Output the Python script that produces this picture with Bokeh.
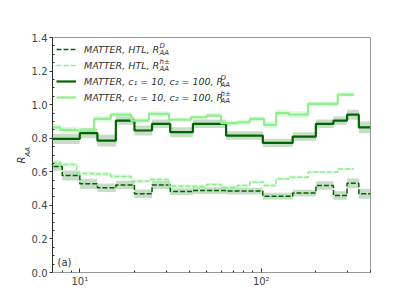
from bokeh.plotting import figure
from bokeh.models import (Range1d, FixedTicker, CustomJSTickFormatter,
                          PrintfTickFormatter, Legend, LegendItem, Label, Title)
from bokeh.embed import file_html
from bokeh.resources import INLINE

# ---------------- data ----------------
d_edges = [6, 8, 10, 12.5, 15.8, 20, 25, 31.5, 42, 64, 102, 149, 200, 250, 297, 345, 400]
d_full = [0.796, 0.796, 0.83, 0.786, 0.905, 0.846, 0.886, 0.836, 0.886, 0.816, 0.772, 0.81, 0.886, 0.905, 0.94, 0.865]
d_full_err = [0.03, 0.03, 0.03, 0.035, 0.025, 0.03, 0.025, 0.03, 0.025, 0.025, 0.025, 0.025, 0.025, 0.025, 0.03, 0.035]
d_htl = [0.631, 0.578, 0.528, 0.505, 0.522, 0.469, 0.522, 0.482, 0.488, 0.485, 0.455, 0.473, 0.518, 0.459, 0.532, 0.469]
d_htl_err = [0.025, 0.03, 0.03, 0.025, 0.025, 0.025, 0.025, 0.02, 0.02, 0.02, 0.02, 0.02, 0.025, 0.025, 0.03, 0.03]

h_edges = [6.4, 7.8, 9.6, 12, 14.8, 19.2, 24, 31, 41, 50, 60, 73.6, 86.4, 103.6, 120.8, 142, 181, 264, 324]
h_full = [0.865, 0.85, 0.846, 0.915, 0.94, 0.905, 0.945, 0.91, 0.925, 0.935, 0.89, 0.895, 0.915, 0.88, 0.95, 0.94, 1.005, 1.06]
h_full_err = [0.02, 0.018, 0.018, 0.018, 0.015, 0.018, 0.015, 0.015, 0.015, 0.015, 0.015, 0.015, 0.015, 0.02, 0.02, 0.02, 0.015, 0.012]
h_htl = [0.657, 0.643, 0.59, 0.587, 0.572, 0.544, 0.554, 0.514, 0.514, 0.524, 0.508, 0.518, 0.538, 0.518, 0.558, 0.568, 0.598, 0.617]
h_htl_err = [0.012, 0.012, 0.012, 0.012, 0.012, 0.012, 0.012, 0.01, 0.01, 0.01, 0.01, 0.01, 0.01, 0.01, 0.01, 0.01, 0.008, 0.008]

x_ticks = [10, 100]
x_minor = [8, 9, 20, 30, 40, 50, 60, 70, 80, 90, 200, 300, 400]
y_ticks = [0.0, 0.2, 0.4, 0.6, 0.8, 1.0, 1.2, 1.4]
y_minor = [0.05, 0.1, 0.15, 0.25, 0.3, 0.35, 0.45, 0.5, 0.55, 0.65, 0.7, 0.75,
           0.85, 0.9, 0.95, 1.05, 1.1, 1.15, 1.25, 1.3, 1.35]

DARK = "#006400"
LIGHT = "#90ee90"
FONT = "DejaVu Sans"
TXT = "#333333"

p = figure(width=400, height=300, x_axis_type="log", output_backend="svg",
           toolbar_location=None, x_range=Range1d(7.07, 400), y_range=Range1d(0, 1.4),
           min_border_left=52, min_border_right=30, min_border_top=37, min_border_bottom=28)
p.background_fill_color = "white"
p.border_fill_color = "white"
p.outline_line_color = "#999999"
p.xgrid.visible = False
p.ygrid.visible = False


def ext(v):
    return list(v) + [v[-1]]


def band(edges, vals, errs, color, alpha):
    lo = [v - e for v, e in zip(vals, errs)]
    hi = [v + e for v, e in zip(vals, errs)]
    p.varea_step(x=edges, y1=ext(lo), y2=ext(hi), step_mode="after",
                 fill_color=color, fill_alpha=alpha)


band(d_edges, d_htl, d_htl_err, DARK, 0.22)
band(h_edges, h_htl, h_htl_err, LIGHT, 0.3)
band(d_edges, d_full, d_full_err, DARK, 0.22)
band(h_edges, h_full, h_full_err, LIGHT, 0.3)

r1 = p.step(x=d_edges, y=ext(d_htl), mode="after", line_color=DARK, line_width=1.5, line_dash="5 2")
r2 = p.step(x=h_edges, y=ext(h_htl), mode="after", line_color=LIGHT, line_width=1.5, line_dash="5 2")
r3 = p.step(x=d_edges, y=ext(d_full), mode="after", line_color=DARK, line_width=2.2)
r4 = p.step(x=h_edges, y=ext(h_full), mode="after", line_color=LIGHT, line_width=2.2)

# axes
p.xaxis.ticker = FixedTicker(ticks=x_ticks, minor_ticks=x_minor)
p.xaxis.formatter = CustomJSTickFormatter(code="""
    if (Math.abs(tick - 10) < 1e-6) return '10\u00b9';
    if (Math.abs(tick - 100) < 1e-6) return '10\u00b2';
    return '';
""")
p.yaxis.ticker = FixedTicker(ticks=y_ticks, minor_ticks=y_minor)
p.yaxis.formatter = PrintfTickFormatter(format="%.1f")
for ax in (p.xaxis[0], p.yaxis[0]):
    ax.major_label_text_font = FONT
    ax.major_label_text_font_size = "10px"
    ax.major_label_text_color = "#444444"
    ax.major_tick_line_color = TXT
    ax.minor_tick_line_color = TXT
p.xaxis.axis_line_color = "#999999"
p.yaxis.axis_line_color = TXT
p.xaxis.major_tick_in = 4
p.xaxis.major_tick_out = 0
p.xaxis.minor_tick_in = 2
p.xaxis.minor_tick_out = 0
p.xaxis.major_label_standoff = 3
p.yaxis.major_tick_in = 0
p.yaxis.major_tick_out = 3
p.yaxis.minor_tick_in = 2
p.yaxis.minor_tick_out = 0
p.yaxis.major_label_standoff = 2

# y axis label R_AA as side titles (left panel)
p.add_layout(Title(text="AA", align="left", offset=116, standoff=-6,
                   text_font=FONT, text_font_style="italic", text_font_size="7px",
                   text_color=TXT), "left")
p.add_layout(Title(text="R", align="left", offset=109, standoff=-4,
                   text_font=FONT, text_font_style="italic", text_font_size="10px",
                   text_color=TXT), "left")

# legend
leg_labels = ["MATTER, HTL, R", "MATTER, HTL, R",
              "MATTER, c\u2081 = 10, c\u2082 = 100, R", "MATTER, c\u2081 = 10, c\u2082 = 100, R"]
legend = Legend(items=[LegendItem(label=t, renderers=[r]) for t, r in zip(leg_labels, [r1, r2, r3, r4])],
                location="top_left", margin=0, padding=4, spacing=0,
                glyph_height=16, glyph_width=20, label_height=16, label_standoff=8,
                background_fill_alpha=0, border_line_alpha=0,
                label_text_font=FONT, label_text_font_style="italic",
                label_text_font_size="9.5px", label_text_color=TXT)
p.add_layout(legend)

row_y = [223, 207, 191, 175]
r_end = [107, 107, 168, 168]
sups = ["D", "h\u00b1", "D", "h\u00b1"]
for yc, xe, sp in zip(row_y, r_end, sups):
    p.add_layout(Label(x=xe, y=yc + 4, x_units="screen", y_units="screen", text=sp,
                       text_font=FONT, text_font_style="italic", text_font_size="7px",
                       text_color=TXT, text_baseline="middle", text_align="left"))
    p.add_layout(Label(x=xe, y=yc - 3, x_units="screen", y_units="screen", text="AA",
                       text_font=FONT, text_font_style="italic", text_font_size="7px",
                       text_color=TXT, text_baseline="middle", text_align="left"))

# panel tag
p.add_layout(Label(x=5, y=5, x_units="screen", y_units="screen", text="(a)",
                   text_font=FONT, text_font_size="10px", text_color=TXT,
                   text_baseline="bottom", text_align="left"))

open("out.html", "w").write(file_html(p, INLINE))
